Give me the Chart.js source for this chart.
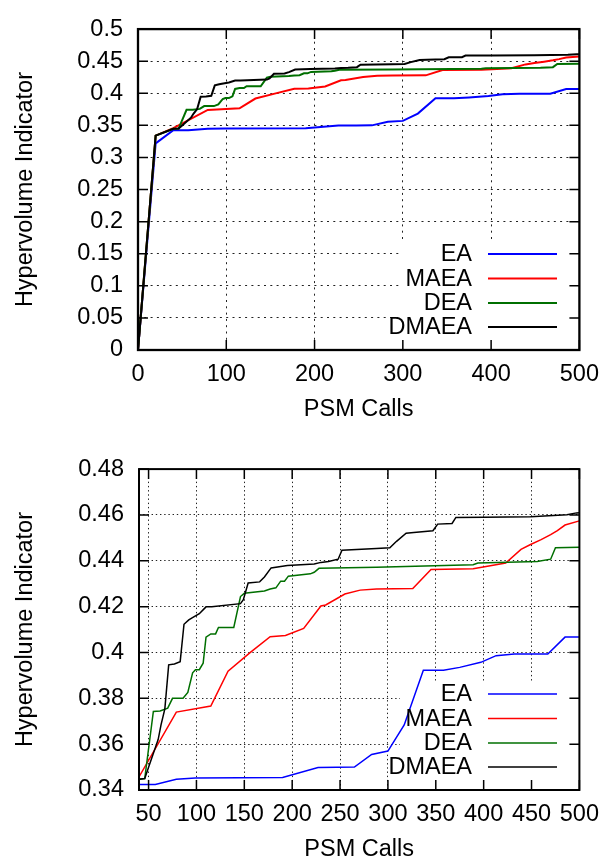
<!DOCTYPE html>
<html>
<head>
<meta charset="utf-8">
<script src="https://cdn.jsdelivr.net/npm/chart.js@4"></script>
<style>
  html, body { margin: 0; padding: 0; background: #fff; }
  .panel { position: absolute; left: 0; width: 609px; height: 424px; }
  #top { top: 0; }
  #bottom { top: 440px; }
</style>
</head>
<body>
<div class="panel" id="top"><canvas id="full" width="609" height="424"></canvas></div>
<div class="panel" id="bottom"><canvas id="zoom" width="609" height="424"></canvas></div>
<script>
const seriesNames = ["EA", "MAEA", "DEA", "DMAEA"];
const seriesColors = ["#0000ff", "#ff0000", "#006f00", "#000000"];

// hypervolume vs. number of PSM calls, one pair of arrays per algorithm
const eaCalls = [0, 20, 40, 57, 79, 99, 190, 227, 247, 265, 283, 300, 317, 337, 358, 375, 397, 413, 432, 467, 485, 500];
const eaHv = [0, 0.322, 0.3424, 0.3424, 0.3447, 0.3452, 0.3455, 0.3498, 0.3499, 0.35, 0.3555, 0.357, 0.3684, 0.3922, 0.3922, 0.3935, 0.3957, 0.3986, 0.3993, 0.3993, 0.4067, 0.4067];

const maeaCalls = [0, 20, 40, 79, 115, 133, 156, 177, 193, 212, 230, 235, 255, 271, 288, 326, 345, 389, 401, 423, 439, 449, 460, 470, 477, 485, 500];
const maeaHv = [0, 0.334, 0.3457, 0.374, 0.3766, 0.3918, 0.3999, 0.4069, 0.4074, 0.4105, 0.4203, 0.4207, 0.4255, 0.4272, 0.4277, 0.4279, 0.4362, 0.4365, 0.4374, 0.439, 0.445, 0.4471, 0.4492, 0.4514, 0.4532, 0.4556, 0.4574];

const deaCalls = [0, 20, 40, 46, 55, 62, 70, 75, 86, 91, 96, 99, 103, 107, 110, 115, 120, 123, 139, 146, 150, 171, 177, 183, 188, 192, 196, 219, 223, 228, 288, 389, 394, 456, 470, 475, 500];
const deaHv = [0, 0.334, 0.3447, 0.345, 0.3743, 0.3745, 0.3757, 0.38, 0.38, 0.3826, 0.3911, 0.3925, 0.3925, 0.3953, 0.4067, 0.4081, 0.4081, 0.4109, 0.4109, 0.4244, 0.4258, 0.4268, 0.4277, 0.4282, 0.4311, 0.4311, 0.4333, 0.4343, 0.435, 0.4367, 0.4372, 0.4383, 0.439, 0.4397, 0.4407, 0.4457, 0.4459];

const dmaeaCalls = [0, 20, 40, 46, 50, 60, 63, 67, 71, 77, 83, 87, 92, 95, 103, 110, 116, 146, 149, 154, 166, 171, 178, 195, 223, 230, 238, 248, 252, 288, 302, 309, 319, 327, 347, 352, 367, 371, 400, 449, 487, 497, 500];
const dmaeaHv = [0, 0.334, 0.3447, 0.345, 0.3499, 0.362, 0.3684, 0.3754, 0.3946, 0.395, 0.396, 0.4123, 0.4142, 0.415, 0.4169, 0.4199, 0.42, 0.4213, 0.423, 0.4303, 0.4308, 0.4329, 0.4369, 0.4379, 0.4386, 0.4393, 0.4397, 0.4407, 0.4446, 0.4454, 0.4457, 0.4485, 0.452, 0.4523, 0.4531, 0.456, 0.4563, 0.4589, 0.459, 0.4592, 0.4601, 0.4609, 0.461];

const fullXTicks = [0, 100, 200, 300, 400, 500];
const fullYTicks = [0, 0.05, 0.1, 0.15, 0.2, 0.25, 0.3, 0.35, 0.4, 0.45, 0.5];
const zoomXTicks = [50, 100, 150, 200, 250, 300, 350, 400, 450, 500];
const zoomYTicks = [0.34, 0.36, 0.38, 0.4, 0.42, 0.44, 0.46, 0.48];

const FONT = { family: "'Liberation Sans', Arial, sans-serif", size: 23.5, lineHeight: 1.2 };

const toPoints = (xs, ys) => xs.map((x, i) => ({ x, y: ys[i] }));
const allSeries = [
  toPoints(eaCalls, eaHv),
  toPoints(maeaCalls, maeaHv),
  toPoints(deaCalls, deaHv),
  toPoints(dmaeaCalls, dmaeaHv),
];

// gnuplot-style box: frame, inward mirrored ticks, opaque key
const gnuplotFrame = {
  id: "gnuplotFrame",
  beforeDatasetsDraw(chart) {
    const { ctx, chartArea: a } = chart;
    ctx.save();
    ctx.fillStyle = "#fff";
    ctx.fillRect(400, a.bottom - 108, a.right - 400, 108);
    ctx.restore();
  },
  afterDatasetsDraw(chart, args, opts) {
    const { ctx, chartArea: a, scales } = chart;
    ctx.save();
    ctx.strokeStyle = "#000";
    ctx.setLineDash([]);
    ctx.lineWidth = 1.5;
    ctx.beginPath();
    opts.xTicks.forEach((v) => {
      const px = scales.x.getPixelForValue(v);
      ctx.moveTo(px, a.bottom); ctx.lineTo(px, a.bottom - 10);
      ctx.moveTo(px, a.top); ctx.lineTo(px, a.top + 10);
    });
    opts.yTicks.forEach((v) => {
      const py = scales.y.getPixelForValue(v);
      ctx.moveTo(a.left, py); ctx.lineTo(a.left + 10, py);
      ctx.moveTo(a.right, py); ctx.lineTo(a.right - 10, py);
    });
    ctx.stroke();
    ctx.lineWidth = opts.frameWidth;
    ctx.strokeRect(a.left, a.top, a.right - a.left, a.bottom - a.top);

    // key
    const rows = [96, 71.5, 47, 23];
    ctx.font = `${FONT.size}px ${FONT.family}`;
    ctx.textAlign = "right";
    ctx.textBaseline = "middle";
    ctx.fillStyle = "#000";
    seriesNames.forEach((name, i) => {
      const y = a.bottom - rows[i];
      ctx.fillText(name, 472, y + 1);
      ctx.strokeStyle = seriesColors[i];
      ctx.lineWidth = opts.keyWidth;
      ctx.beginPath();
      ctx.moveTo(488, y);
      ctx.lineTo(557, y);
      ctx.stroke();
    });
    ctx.restore();
  },
};

function makeChart(id, cfg) {
  const gridColor = (c) =>
    c.tick && (c.tick.value === cfg.xMin || c.tick.value === cfg.xMax) ? "rgba(0,0,0,0)" : "#222";
  const gridColorY = (c) =>
    c.tick && (c.tick.value === cfg.yMin || c.tick.value === cfg.yMax) ? "rgba(0,0,0,0)" : "#222";

  return new Chart(document.getElementById(id).getContext("2d"), {
    type: "line",
    data: {
      datasets: allSeries.map((pts, i) => ({
        label: seriesNames[i],
        data: pts,
        borderColor: seriesColors[i],
        borderWidth: cfg.lineWidth,
        pointRadius: 0,
        tension: 0,
        fill: false,
        order: 3 - i,
      })),
    },
    plugins: [gnuplotFrame],
    options: {
      responsive: false,
      animation: false,
      devicePixelRatio: 1,
      layout: { padding: { top: 20, right: 609 - cfg.plotRight, bottom: 0, left: 0 } },
      plugins: {
        legend: { display: false },
        tooltip: { enabled: false },
        gnuplotFrame: { xTicks: cfg.xTicks, yTicks: cfg.yTicks, keyWidth: cfg.lineWidth, frameWidth: cfg.frameWidth },
      },
      scales: {
        x: {
          type: "linear",
          min: cfg.xMin,
          max: cfg.xMax,
          afterBuildTicks: (s) => { s.ticks = cfg.xTicks.map((v) => ({ value: v })); },
          afterFit: (s) => { s.height = 74; },
          ticks: { color: "#000", font: FONT, padding: 10, maxRotation: 0, autoSkip: false, callback: (v) => String(v) },
          grid: { color: gridColor, lineWidth: 1, drawTicks: false },
          border: { display: false, dash: cfg.dash },
          title: { display: true, text: "PSM Calls", color: "#000", font: FONT, padding: { top: 0, bottom: 0 } },
        },
        y: {
          type: "linear",
          min: cfg.yMin,
          max: cfg.yMax,
          afterBuildTicks: (s) => { s.ticks = cfg.yTicks.map((v) => ({ value: v })); },
          afterFit: (s) => { s.width = cfg.plotLeft; },
          ticks: { color: "#000", font: FONT, padding: 15, autoSkip: false, callback: (v) => String(v) },
          grid: { color: gridColorY, lineWidth: 1, drawTicks: false },
          border: { display: false, dash: cfg.dash },
          title: { display: true, text: "Hypervolume Indicator", color: "#000", font: FONT, padding: { top: 11, bottom: 0 } },
        },
      },
    },
  });
}

makeChart("full", {
  xMin: 0, xMax: 500, yMin: 0, yMax: 0.5,
  xTicks: fullXTicks, yTicks: fullYTicks,
  plotLeft: 138, plotRight: 587, lineWidth: 2, frameWidth: 2.3, dash: [2, 4.3],
});

makeChart("zoom", {
  xMin: 40, xMax: 500, yMin: 0.34, yMax: 0.48,
  xTicks: zoomXTicks, yTicks: zoomYTicks,
  plotLeft: 139, plotRight: 586, lineWidth: 1.5, frameWidth: 2, dash: [1.4, 2.8],
});
</script>
</body>
</html>
